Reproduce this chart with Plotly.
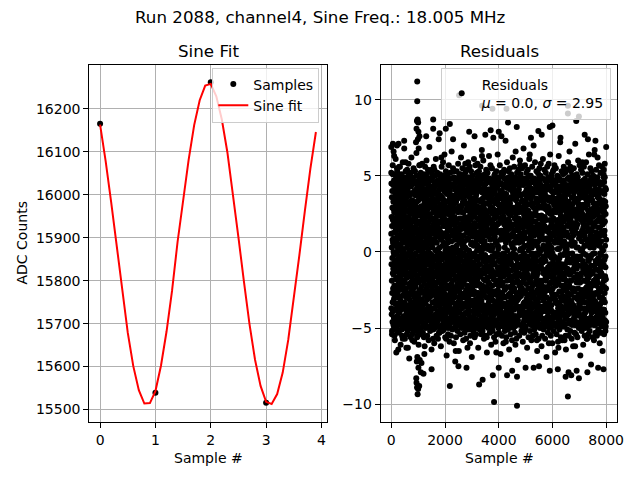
import plotly.graph_objects as go

TITLE = "Run 2088, channel4, Sine Freq.: 18.005 MHz"

# Left panel: raw samples and sine fit
SAMPLE_X = [0, 1, 2, 3]
SAMPLE_Y = [16165, 15539, 16262, 15516]
FIT_X = [0.0, 0.1, 0.2, 0.3, 0.4, 0.5, 0.6, 0.7, 0.8, 0.9,
         1.0, 1.1, 1.2, 1.3, 1.4, 1.5, 1.6, 1.7, 1.8, 1.9,
         2.0, 2.1, 2.2, 2.3, 2.4, 2.5, 2.6, 2.7, 2.8, 2.9,
         3.0, 3.1, 3.2, 3.3, 3.4, 3.5, 3.6, 3.7, 3.8, 3.9]
FIT_Y = [16163, 16079, 15983, 15878, 15775, 15679, 15601, 15545, 15514, 15515,
         15543, 15602, 15681, 15776, 15890, 15984, 16081, 16162, 16220, 16254,
         16258, 16229, 16175, 16099, 16005, 15901, 15797, 15699, 15616, 15555,
         15518, 15513, 15536, 15586, 15662, 15755, 15858, 15962, 16061, 16146]

# Right panel: residuals (tenths of ADC counts), read as a dense band
RESID_TENTHS = [
12,-37,45,-8,23,-41,3,-19,36,-52,17,-27,40,-4,29,-46,8,-33,51,-14,21,-39,6,-24,44,-11,33,-48,0,66,
-15,28,-43,9,-31,47,-2,19,-38,26,-55,13,-22,41,-7,35,-29,4,-45,16,-12,38,-34,22,-49,61,-6,31,-18,43,
7,-26,39,-44,14,-9,32,-50,25,-17,46,-1,20,-36,53,-23,10,-42,30,-5,48,-28,15,-39,2,37,-13,24,-64,27,
-34,18,-47,5,42,-20,11,-30,34,-3,56,-16,27,-40,9,-25,45,-10,22,-48,39,-7,16,-32,50,-21,4,-44,31,-12,
26,-38,1,44,-18,35,-46,13,-6,29,-35,47,-24,8,-51,19,-2,40,-29,24,-14,37,-43,11,-57,33,-9,21,-37,6,
-21,43,-11,30,-49,2,17,-28,38,-5,25,-42,49,-15,10,-33,34,-1,-19,46,-26,7,41,-45,14,-8,28,-36,59,-3,
35,-12,22,-47,6,31,-24,45,-39,18,-3,42,-30,12,-54,27,-17,3,36,-41,20,-10,48,-27,9,-35,15,-50,40,-63,
-6,39,-29,16,-43,23,-14,50,-2,-37,32,-21,8,44,-46,1,26,-31,13,-9,37,-48,19,-23,5,47,-40,29,-16,52,
18,-45,33,-1,27,-34,10,-20,43,-11,-50,21,-7,38,-26,15,-42,30,-4,49,-17,25,-38,2,34,-58,11,-28,45,-13,
-40,14,-25,48,-9,20,-33,4,39,-47,28,-15,45,-36,7,-2,31,-22,16,-44,53,-5,23,-30,40,-12,8,-49,26,-19,
31,-8,46,-23,13,-43,37,-1,-32,21,-15,5,41,-28,50,-40,18,-6,27,-47,9,33,-19,44,-35,3,-11,24,-55,15,
-27,40,-16,2,-38,29,-49,11,43,-9,19,-30,34,-44,7,-20,47,-3,14,-36,25,-52,38,-12,1,-41,28,-25,10,57,
4,-33,20,-46,36,-18,9,-5,48,-27,13,-39,24,-14,42,-50,30,-7,-23,17,-45,39,-2,27,-31,12,45,-37,21,-8,
44,-19,28,-35,1,50,-42,16,-10,35,-26,6,-48,22,-3,38,-16,11,-40,29,-56,19,-9,47,-21,4,-33,32,-13,-62,
-11,26,-40,13,-29,45,-6,33,-47,20,-18,41,-1,-34,9,24,-43,49,-15,3,-27,36,-8,15,-38,51,-24,7,-45,30,
23,-4,37,-31,17,-49,5,28,-22,44,-12,-41,31,-8,19,-36,2,46,-26,39,-3,12,-45,25,-17,48,-30,10,-20,42,
-36,11,-21,47,-14,24,-1,-44,32,-27,8,40,-50,16,-6,34,-39,21,-11,5,43,-29,30,-48,14,-2,37,-15,54,-23,
16,-42,29,-10,39,-25,12,-33,3,49,-19,22,-7,-46,35,-13,26,-37,8,-51,18,-4,41,-20,31,-43,6,-28,46,-60,
-3,34,-48,21,-16,7,-37,43,-26,14,-45,30,-9,50,-22,1,-32,27,-41,11,-14,38,-5,23,-47,17,-35,44,-10,29,
39,-20,6,-30,45,-13,25,-46,18,-2,33,-39,10,-24,47,-8,16,-49,36,-17,2,-34,28,-42,12,-6,40,-27,20,-53,
-18,47,-33,15,-7,41,-44,3,26,-12,-36,20,-50,31,-1,44,-25,9,-15,37,-40,24,-4,49,-31,13,-21,35,-9,62,
8,-29,42,-17,30,-48,19,-5,36,-38,11,-23,46,-10,28,-43,4,-34,22,-13,50,-26,17,-2,-45,33,-19,6,-39,25,
-46,22,-9,34,-27,5,48,-15,-3,40,-32,17,-20,43,-49,12,-8,30,-37,26,1,-42,39,-11,21,-29,47,-16,10,-57,
27,-14,3,-40,18,-31,46,-23,13,-47,38,-6,25,-18,9,-35,42,-1,33,-44,15,-24,6,-50,29,-10,41,-34,2,19,
-31,38,-22,10,-45,27,-4,16,-36,45,-17,2,-28,35,-12,21,-47,40,-6,14,-39,48,-25,32,-8,-1,24,-43,37,-14,
14,-50,24,-3,43,-21,36,-41,7,-11,29,-27,44,-5,18,-38,11,-19,48,-33,26,-9,3,-46,34,-15,20,-30,53,-4,
-7,31,-39,19,-24,49,-13,2,-30,37,-45,14,-1,23,-42,32,-10,45,-28,8,-18,41,-36,16,-4,28,-49,12,-25,-65,
42,-25,12,-49,33,-8,20,-37,48,-16,4,-34,27,-43,10,-22,39,-5,-47,19,-12,35,-21,1,-40,46,-7,26,-33,15,
-24,9,-44,28,-1,39,-30,13,-18,47,-9,30,-39,6,-26,50,-15,22,-34,43,-3,11,-48,37,-20,7,-31,42,-12,51,
1,-35,17,-28,47,-6,29,-49,22,-14,40,-43,15,-3,36,-23,8,-46,26,-37,45,-10,31,-17,4,-41,19,-2,38,-29,
33,-16,48,-42,5,-21,26,-9,41,-34,11,-47,20,-1,-30,44,-19,34,-44,7,-27,49,-8,16,-36,23,-13,3,-50,58,
-44,20,-6,37,-29,15,-40,45,-12,2,-25,32,-48,17,-7,28,-35,40,-16,-4,22,-45,13,-22,47,-32,9,-11,30,-17,
19,-48,31,-13,8,-37,43,-2,27,-26,14,-41,38,-9,49,-31,1,-18,29,-47,18,-6,36,-39,12,-28,44,-5,24,-60,
-12,36,-27,45,-15,21,-1,-43,34,-10,48,-24,5,-35,16,-49,32,-14,41,-2,27,-33,6,-20,40,-44,15,-8,33,-23,
47,-3,10,-32,24,-46,39,-18,12,-39,30,-7,-21,46,-28,4,-42,23,-11,35,-49,14,-26,43,-1,19,-37,28,-15,-54,
-2,25,-47,16,-35,33,-20,6,-44,28,-13,42,-31,10,-4,37,-22,47,-40,17,-9,26,-50,8,-17,39,-27,1,45,-36,
30,-40,4,-18,49,-11,22,-33,40,-5,17,-48,26,-27,13,-41,44,-8,21,-30,9,-45,34,-14,27,-3,-38,48,-21,11,
-37,13,-30,41,-8,28,-45,19,-16,46,-37,1,33,-12,24,-34,7,-23,50,-43,29,-1,15,-32,45,-24,3,-47,20,63,
10,-22,39,-49,26,-3,35,-27,8,-42,21,-14,48,-39,2,18,-46,31,-6,12,-35,42,-18,29,-44,5,36,-10,-29,24,
-49,44,-14,7,-26,38,-36,11,-2,32,-45,25,-10,40,-19,-7,27,-38,14,45,-23,3,-41,20,-12,49,-30,17,-5,-56,
21,-9,32,-38,15,-24,47,-44,4,-17,36,-30,11,-48,26,41,-13,2,-35,23,-46,37,-4,-20,10,-33,46,-26,38,-11,
-5,41,-21,27,-47,12,-11,34,-29,48,-6,19,-40,30,-25,8,-50,36,-16,1,39,-28,21,-43,33,-9,14,-38,4,55,
37,-31,1,-45,20,-12,44,-3,29,-36,16,-22,3,-49,42,-15,25,-4,47,-32,12,-42,28,-7,-26,40,-18,9,-47,18,
-28,16,-41,34,-3,50,-26,22,-8,39,-48,10,-33,45,-1,-39,17,-27,32,-14,6,-36,49,-21,15,-45,27,-3,35,-66,
13,-46,25,-19,42,-33,7,-40,37,-1,23,-15,43,-36,18,-10,34,-48,4,-25,47,-12,19,-30,2,-39,31,-22,44,-6,
-39,3,46,-10,-27,19,-43,36,-14,26,-6,49,-34,13,-44,29,-2,40,-19,28,-37,8,-11,45,-42,22,-17,37,-31,14,
45,-27,14,-36,31,-5,20,-47,11,-22,40,-40,28,-8,35,-28,12,-45,23,-3,44,-20,9,-49,38,-13,26,-1,-43,52,
-16,34,-49,23,-11,43,-34,8,-45,18,-2,36,-25,48,-12,3,-41,20,-30,38,-7,31,-46,15,-24,10,-36,43,-9,-59,
6,-42,27,-4,38,-23,13,-38,46,-15,30,-47,9,-19,42,-37,26,-11,1,-44,21,-29,47,-6,33,-48,18,-14,29,-34,
-33,21,-13,49,-40,8,-28,35,-3,25,-43,15,-5,31,-50,20,-23,44,-17,11,-38,32,-2,-35,24,-8,41,-27,16,47,
25,-47,36,-7,18,-30,41,-19,5,-41,27,-12,46,-31,17,-4,-44,35,-26,10,47,-16,3,-37,29,-47,12,-21,39,-1,
-9,29,-24,11,-46,37,-16,48,-33,6,-20,43,-38,2,28,-24,14,-49,39,-11,22,-31,45,-3,-42,18,-30,6,49,-61,
40,-15,7,-44,25,-2,34,-35,19,-13,45,-27,10,-46,35,-17,48,-5,-32,29,-48,16,-8,27,-19,37,-45,31,-4,21,
-45,9,-31,39,-20,47,-10,14,-42,30,-4,22,-37,41,-14,26,-30,6,-22,44,-9,38,-40,11,-15,48,-26,1,-38,57,
17,-36,44,-23,2,-41,29,-8,37,-29,12,-48,20,-3,46,-40,9,-16,33,-36,1,45,-24,19,-49,7,-11,34,-20,-7,
-20,48,-5,26,-37,16,-47,21,-9,44,-34,3,-18,38,-42,13,-1,30,-45,24,-27,10,-33,48,-14,28,-40,4,26,-51,
32,-11,19,-49,13,-26,39,-42,28,-7,-45,33,-15,9,-35,47,-21,17,-3,41,-31,-12,26,-44,36,-6,20,-29,45,-17,
-41,23,-36,4,45,-15,-3,31,-24,49,-10,27,-43,16,-28,1,37,-39,24,-18,43,-7,14,-47,6,-34,40,-9,18,64,
9,-32,50,-18,21,-45,12,-6,42,-38,18,-20,35,-11,-48,25,-34,8,46,-25,15,-41,32,-2,23,-37,3,46,-23,-30,
-26,37,-1,-43,30,-9,46,-28,6,-16,32,-44,14,48,-6,-29,41,-14,20,-49,29,-4,-36,39,-12,16,-46,25,-35,11,
48,-21,16,-34,7,-48,25,-13,39,-3,-31,20,-40,27,-9,44,-45,12,-19,35,-1,24,-47,5,-27,42,-16,35,-42,-58,
-13,4,-38,45,-25,32,-6,17,-49,24,-14,46,-2,-33,13,-22,39,-47,7,30,-36,18,-10,47,-30,2,29,-39,14,50,
22,-44,30,-1,40,-36,10,-24,45,-19,8,-41,34,-26,50,-11,1,-28,43,-43,16,-8,37,-21,11,-48,24,-5,40,-28,
-48,12,-19,36,-11,21,-44,43,-29,14,-36,29,-7,18,-39,9,-25,48,-32,4,-14,33,-44,20,-3,38,-23,8,-46,31,
34,-27,41,-12,17,-38,3,-46,23,-5,38,-15,-26,47,-18,30,-49,15,-6,41,-34,28,-19,1,-39,14,46,-30,21,-13,
-1,44,-30,14,-43,28,-17,9,-35,41,-23,4,-47,30,-13,36,-2,-40,26,-10,49,-45,6,-25,34,-16,13,-36,47,-60,
29,-15,5,-47,35,-10,47,-32,16,-43,1,26,-21,43,-8,-36,21,-31,11,-45,25,-3,42,-38,8,-20,33,-49,17,3,
-35,40,-26,19,-4,49,-39,25,-12,2,44,-28,12,-44,36,-1,-17,45,-24,16,-42,39,-7,27,-48,11,-28,22,-15,54,
11,-48,21,-20,31,-29,14,-3,47,-40,27,-9,39,-14,6,-47,28,-18,34,-31,7,-22,46,-10,-33,44,-4,31,-42,17,
-22,26,-42,8,-33,42,-8,35,-28,17,-49,12,-34,32,-41,19,-12,40,-48,2,33,-13,21,-44,15,-37,49,-20,6,-63,
43,-6,33,-39,11,-17,28,-45,2,37,-26,48,-11,-4,29,-43,15,-33,47,-15,21,-41,9,-26,43,-2,-46,36,-11,24,
-30,18,-48,27,-14,41,-22,13,-41,30,-8,-36,21,-46,40,-26,4,-9,33,-40,12,47,-29,6,-18,31,-37,16,-49,45,
15,-37,45,-2,-25,34,-47,20,-10,47,-32,7,-17,37,-30,11,-49,23,-1,43,-22,28,-8,-43,35,-14,2,41,-31,-55,
-43,28,-11,42,-37,5,38,-19,26,-34,13,-44,44,-13,2,-41,32,-24,17,-6,39,-35,24,-11,48,-27,11,-40,30,-4,
38,-23,10,-29,48,-41,18,-1,-37,21,-47,33,-5,26,-22,49,-36,5,-28,29,-15,42,-45,17,-7,25,-32,48,-19,56,
-14,47,-35,22,-6,30,-28,40,-46,9,-19,42,-39,15,-33,8,45,-12,36,-48,4,-24,31,-1,-38,13,-45,19,36,-25,
5,-40,27,-45,16,-13,45,-35,11,-24,36,-3,-44,24,-11,39,-17,28,-42,14,-30,47,-9,33,-26,6,40,-48,-6,-62,
-37,15,-8,34,-48,24,-5,27,-17,43,-42,19,-7,49,-37,16,-46,3,-20,41,-11,35,-3,-30,22,-41,18,-15,44,28,
26,-31,49,-15,3,-39,32,-24,44,-9,23,-49,31,-28,12,-5,35,-40,9,-34,46,-17,12,-47,29,-20,38,-4,-36,10,
-47,31,-20,11,-42,36,-3,46,-29,1,-16,27,-37,42,-25,21,-31,44,-14,26,-44,7,-27,40,-9,-44,14,-33,25,59,
2,-45,36,-26,22,-6,41,-48,19,-11,47,-30,16,-42,31,-1,-25,38,-49,12,-19,30,-37,45,-13,4,-41,21,-8,38,
-25,10,-40,48,-19,13,-33,29,-9,38,-46,4,-24,35,-14,45,-39,17,-2,31,-28,8,-47,23,-15,43,-23,33,-44,-57,
36,-18,24,-37,7,-49,40,-11,31,-20,14,-44,27,-5,43,-30,22,-17,5,-45,36,-6,19,-35,44,-26,8,-12,46,-33,
-10,42,-29,15,-44,25,-37,3,-15,47,-24,34,-48,11,-4,20,-43,39,-21,28,-9,49,-31,14,-40,27,-2,37,-27,14,
46,-34,8,-22,34,-14,19,-46,38,-28,6,-39,23,-13,47,-44,10,-29,40,-1,17,-38,32,-19,3,-48,29,-9,-39,64,
-32,24,-45,38,-1,44,-20,17,-36,8,-48,30,-11,41,-33,26,-6,-18,48,-27,13,-43,5,38,-22,10,-34,45,-16,-21,
20,-7,31,-43,28,-27,6,-38,49,-17,25,-5,-41,36,-20,9,-47,32,-12,21,-35,41,-4,-28,16,-46,36,-24,12,-53,
-41,35,-16,4,-30,46,-42,23,-8,33,-35,16,-1,-46,27,-13,44,-24,11,-39,45,-26,20,-10,39,-41,7,-2,28,-14,
31,-49,13,-33,40,-9,27,-30,2,-44,39,-21,45,-6,18,-38,29,-43,23,-16,1,-47,34,-8,26,-31,49,-38,19,54,
-19,27,-38,46,-23,11,-49,38,-5,14,-27,49,-33,20,-45,4,-16,33,-40,42,-10,-3,25,-49,30,-18,41,-24,8,-46,
]

# Ragged edge of the band (tenths), spread along the record
FRINGE_TENTHS = [
52,-54,57,-51,63,-58,50,-66,55,-53,71,-52,56,-61,51,-55,59,-50,68,-57,53,-63,54,-52,58,-70,51,-56,62,-54,
-51,55,-59,53,-52,65,-56,50,-61,57,-54,52,-73,58,-53,51,-67,56,-50,60,-55,54,-58,69,-52,53,-64,51,-57,56,
54,-50,61,-55,52,-57,74,-53,51,-62,56,-52,59,-51,64,-56,53,-68,50,-54,57,-59,52,-55,66,-51,55,-60,53,-72,
-56,53,-52,58,-65,51,-54,62,-50,55,-58,70,-53,52,-57,54,-63,59,-51,56,-55,53,-69,50,-52,61,-56,57,-54,52,
58,-63,53,-51,56,-54,67,-52,60,-57,51,-55,54,-66,52,-50,63,-53,57,-61,55,-52,75,-56,51,-59,53,-54,64,-50,
-53,57,-67,52,-55,50,-60,54,-52,73,-56,59,-51,53,-64,55,-54,51,-58,62,-50,56,-53,66,-57,52,-71,54,-55,60,
51,-52,55,-59,68,-53,57,-50,52,-63,54,-56,61,-52,50,-58,56,-55,70,-51,59,-54,53,-65,52,-57,55,-50,58,-62,
-55,61,-51,54,-57,52,-69,56,-53,58,-50,64,-55,51,-60,53,-52,57,-66,55,-54,50,-59,63,-51,72,-56,53,-58,51,
56,-58,52,-64,54,-51,59,-55,66,-52,53,-57,50,-62,55,-53,71,-54,51,-56,60,-50,57,-68,54,-52,52,-61,56,-55,
-50,59,-57,51,-54,64,-52,55,-74,53,-56,50,-58,67,-53,54,-55,62,-51,57,-60,52,-53,56,-65,51,-54,58,-52,69,
]

# Large residuals read individually (sample number, residual)
UPPER_SAMPLES = [0, 60, 210, 480, 920, 940, 955, 966, 966, 980, 990, 1000, 1010, 1020, 1050,
                 1300, 1560, 1560, 1800, 2030, 2180, 2300, 2526, 2900, 3100, 3380, 3500,
                 3700, 3766, 4000, 4100, 4290, 4346, 4670, 5200, 5475, 5600, 5900, 6000,
                 6300, 6575, 6575, 6886, 6985, 7200, 7320, 7600]
UPPER_VALUES = [6.9, 7.1, 7.0, 7.3, 7.2, 8.1, 8.6, 11.2, 9.9, 8.7, 7.4, 8.5, 7.9, 6.8, 7.6,
                7.6, 8.7, 8.1, 7.8, 8.1, 8.4, 7.4, 10.3, 7.9, 7.6, 9.6, 7.7,
                8.0, 9.4, 7.9, 7.6, 9.4, 8.5, 8.2, 7.5, 7.95, 7.7, 8.2, 8.3,
                7.5, 9.6, 9.1, 8.6, 8.9, 7.7, 7.4, 7.3]
LOWER_SAMPLES = [930, 940, 950, 960, 970, 980, 1000, 1010, 1040, 1060, 1100, 1200, 1500,
                 2180, 2500, 2800, 3270, 3400, 3780, 3826, 4000, 4310, 4500, 4680, 4680,
                 5000, 5300, 5500, 5900, 6200, 6490, 6575, 6600, 6700, 6900, 6985, 7300,
                 7700, 7900]
LOWER_VALUES = [-8.3, -8.6, -7.2, -8.9, -6.9, -9.35, -9.0, -7.6, -8.8, -7.1, -7.9, -8.0, -7.7,
                -8.8, -7.5, -7.6, -8.7, -8.4, -8.1, -9.85, -7.6, -8.1, -7.8, -10.1, -8.2,
                -7.6, -7.6, -7.5, -7.8, -7.7, -8.2, -9.5, -7.9, -8.1, -7.8, -8.3, -7.9,
                -7.6, -7.7]
LAST_SAMPLE = 8000
MU = 0.0
SIGMA = 2.95


def spread(values):
    n = len(values)
    return [round(i * LAST_SAMPLE / (n - 1)) for i in range(n)]


res_x = spread(RESID_TENTHS) + spread(FRINGE_TENTHS) + UPPER_SAMPLES + LOWER_SAMPLES
res_y = ([v / 10 for v in RESID_TENTHS] + [v / 10 for v in FRINGE_TENTHS]
         + UPPER_VALUES + LOWER_VALUES)

FONT = "DejaVu Sans"
OFF = 8  # page offset of the figure inside the browser window


def PX(px):
    return (px - OFF) / 640


def PY(py):
    return 1 - (py - OFF) / 480


fig = go.Figure()
fig.add_trace(go.Scatter(x=SAMPLE_X, y=SAMPLE_Y, mode="markers", name="Samples",
                         marker=dict(color="black", size=6), xaxis="x", yaxis="y",
                         legend="legend"))
fig.add_trace(go.Scatter(x=FIT_X, y=FIT_Y, mode="lines", name="Sine fit",
                         line=dict(color="red", width=2), xaxis="x", yaxis="y",
                         legend="legend"))
fig.add_trace(go.Scatter(x=res_x, y=res_y, mode="markers",
                         name=f"Residuals<br><i>μ</i> = {MU:.1f}, <i>σ</i> = {SIGMA:.2f}",
                         marker=dict(color="black", size=6), xaxis="x2", yaxis="y2",
                         legend="legend2"))

ax = dict(showline=True, linecolor="black", linewidth=1, mirror=True,
          ticks="outside", ticklen=5, tickwidth=1, tickcolor="black",
          showgrid=True, gridcolor="#b0b0b0", gridwidth=1, zeroline=False,
          tickfont=dict(family=FONT, size=14, color="black"), automargin=False)

ydom = [PY(422), PY(65)]
leg = dict(yanchor="top", xanchor="right", bgcolor="rgba(255,255,255,0.8)",
           bordercolor="#cccccc", borderwidth=1,
           font=dict(family=FONT, size=14, color="black"))
fig.update_layout(
    width=640, height=480, margin=dict(l=0, r=0, t=0, b=0),
    paper_bgcolor="white", plot_bgcolor="white",
    font=dict(family=FONT, size=14, color="black"),
    xaxis=dict(domain=[PX(89.3), PX(326.7)], range=[-0.195, 4.095],
               tickvals=[0, 1, 2, 3, 4], anchor="y", **ax),
    yaxis=dict(domain=ydom, range=[15471, 16302],
               tickvals=[15500, 15600, 15700, 15800, 15900, 16000, 16100, 16200],
               tickformat="d", anchor="x", **ax),
    xaxis2=dict(domain=[PX(380.7), PX(617.3)], range=[-394, 8414],
                tickvals=[0, 2000, 4000, 6000, 8000], tickformat="d", anchor="y2", **ax),
    yaxis2=dict(domain=ydom, range=[-11.17, 12.28],
                tickvals=[-10, -5, 0, 5, 10], anchor="x2", **ax),
    legend=dict(x=PX(319.3), y=PY(67.5), **leg),
    legend2=dict(x=PX(610.7), y=PY(67.5), **leg),
    showlegend=True,
)


def note(text, x, y, size, angle=0):
    fig.add_annotation(text=text, x=PX(x), y=PY(y), xref="paper", yref="paper",
                       xanchor="center", yanchor="middle", showarrow=False, textangle=angle,
                       font=dict(family=FONT, size=size, color="black"))


note(TITLE, 320, 17, 16.7)
note("Sine Fit", (89.3 + 326.7) / 2, 51, 16.7)
note("Residuals", (380.7 + 617.3) / 2, 51, 16.7)
note("Sample #", (89.3 + 326.7) / 2, 458, 14)
note("Sample #", (380.7 + 617.3) / 2, 458, 14)
note("ADC Counts", 21, 243.5, 14, angle=-90)

fig.write_html("out.html")
